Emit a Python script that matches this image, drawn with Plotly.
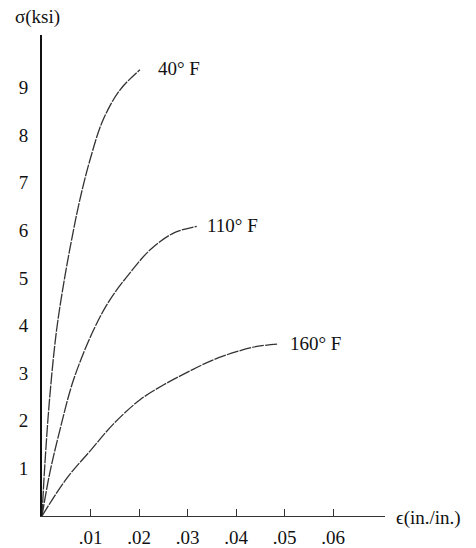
import plotly.graph_objects as go

# Strain (in./in.) and stress (ksi)
strain_40 = [0, 0.0006, 0.0016, 0.0030, 0.0047, 0.0062, 0.0078, 0.0099, 0.0126, 0.0161, 0.0202]
stress_40 = [0, 1.1, 2.5, 3.9, 5.02, 5.85, 6.64, 7.48, 8.32, 8.95, 9.37]

strain_110 = [0, 0.0016, 0.0037, 0.0065, 0.0106, 0.0140, 0.0181, 0.0223, 0.0271, 0.0319]
stress_110 = [0, 0.9, 1.81, 2.86, 3.9, 4.54, 5.1, 5.59, 5.94, 6.08]

strain_160 = [0, 0.0051, 0.0102, 0.0147, 0.0202, 0.0250, 0.0302, 0.0353, 0.0401, 0.0443, 0.0487]
stress_160 = [0, 0.79, 1.40, 1.93, 2.44, 2.75, 3.03, 3.28, 3.45, 3.56, 3.61]

curve_labels = ["40° F", "110° F", "160° F"]

x_tickvals = [0.01, 0.02, 0.03, 0.04, 0.05, 0.06]
x_ticktext = [".01", ".02", ".03", ".04", ".05", ".06"]
y_tickvals = [1, 2, 3, 4, 5, 6, 7, 8, 9]

serif = "Liberation Serif, Times New Roman, serif"
line_style = dict(color="#333333", width=1.3, dash="12px,1.2px")
label_shifts = [16, 8, 10]

fig = go.Figure()
for xs, ys in [(strain_40, stress_40), (strain_110, stress_110), (strain_160, stress_160)]:
    fig.add_trace(go.Scatter(x=xs, y=ys, mode="lines", line_shape="spline",
                             line=line_style, showlegend=False, hoverinfo="skip"))

ends = [(strain_40[-1], stress_40[-1]), (strain_110[-1], stress_110[-1]), (strain_160[-1], stress_160[-1])]
for (ex, ey), lab, sh in zip(ends, curve_labels, label_shifts):
    fig.add_annotation(x=ex, y=ey, xref="x", yref="y", text=lab, showarrow=False,
                       xanchor="left", yanchor="middle", xshift=sh, yshift=1,
                       font=dict(family=serif, size=19, color="#111"))

fig.add_annotation(x=-0.085, y=1.037, xref="paper", yref="paper", text="σ(ksi)",
                   showarrow=False, xanchor="left", yanchor="middle",
                   font=dict(family=serif, size=19, color="#111"))
fig.add_annotation(x=1.0, y=0, xref="paper", yref="paper", text="ϵ(in./in.)",
                   showarrow=False, xanchor="left", yanchor="middle", xshift=9, yshift=-2,
                   font=dict(family=serif, size=19, color="#111"))

fig.update_layout(
    width=476, height=548,
    margin=dict(l=42, r=91, t=35, b=32),
    paper_bgcolor="white", plot_bgcolor="white",
    font=dict(family=serif, size=19, color="#111"),
    xaxis=dict(range=[0, 0.0707], tickvals=x_tickvals, ticktext=x_ticktext,
               ticks="inside", ticklen=7, tickcolor="#333", tickwidth=1,
               showline=True, linecolor="#333", linewidth=1.2, automargin=False,
               showgrid=False, zeroline=False, ticklabelstandoff=4,
               tickfont=dict(family=serif, size=19, color="#111")),
    yaxis=dict(range=[0, 10.1], tickvals=y_tickvals, ticks="", automargin=False,
               showline=True, linecolor="#111", linewidth=2,
               showgrid=False, zeroline=False, ticklabelstandoff=8,
               tickfont=dict(family=serif, size=19, color="#111")),
)

fig.write_html("out.html")
